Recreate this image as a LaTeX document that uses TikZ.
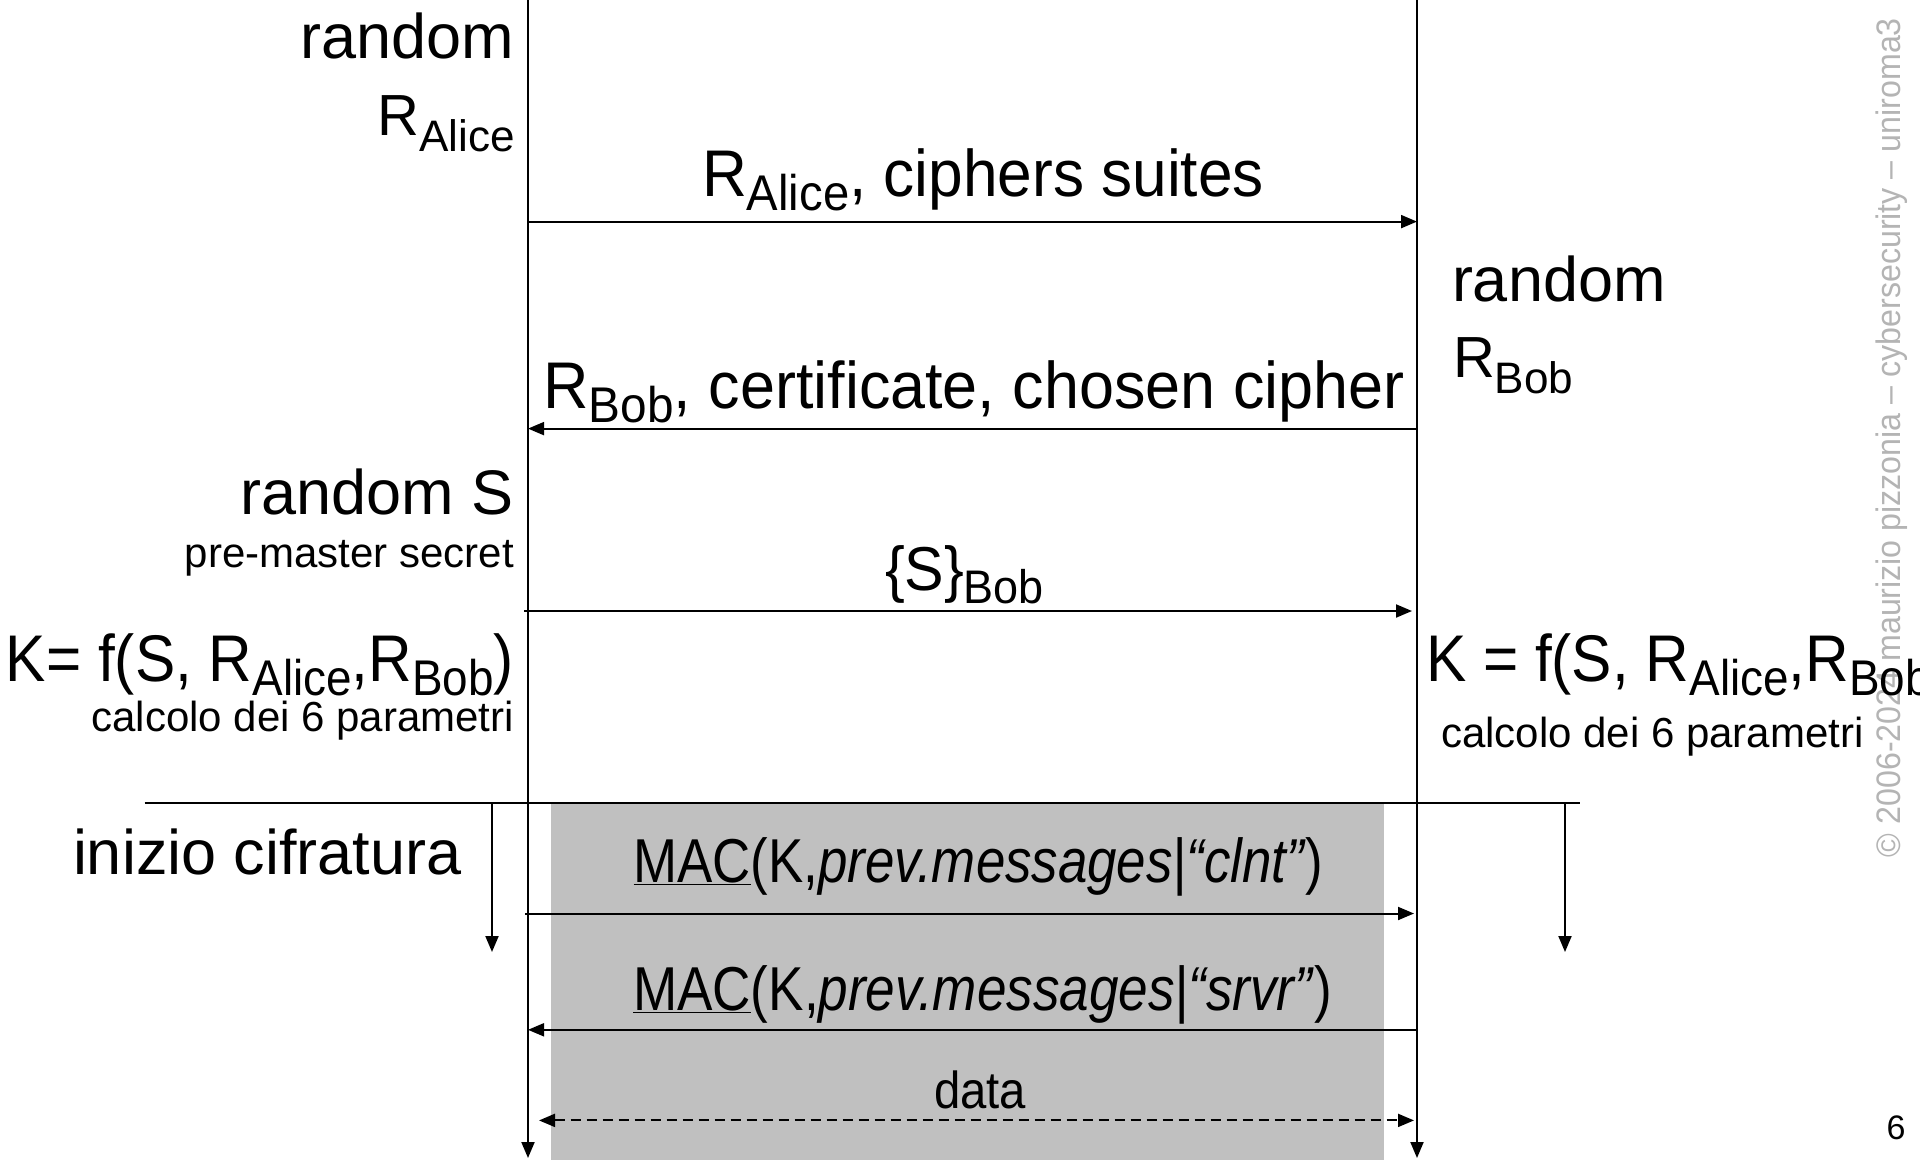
\documentclass[tikz,border=0pt]{standalone}
\usepackage{fontspec}
\setmainfont{Liberation Sans}
\usepackage{graphicx}
\usetikzlibrary{arrows.meta}
\definecolor{encgray}{HTML}{C0C0C0}
\definecolor{wmgray}{HTML}{B4B4B4}
\newcommand{\sbx}[2][0.22em]{\raisebox{-#1}{\scalebox{0.76}{#2}}}
\newcommand{\fitw}[3]{\resizebox{#1pt}{\height}{\fontsize{#2}{#2}\selectfont #3}}
\newcommand{\fs}[1]{\fontsize{#1}{#1}\selectfont}
\begin{document}
\begin{tikzpicture}[x=1pt,y=-1pt,
  tip/.style={-{Triangle[length=16pt,width=13pt]}},
  life/.style={line width=2pt,tip},
  msg/.style={line width=2pt,tip},
  plain/.style={line width=2pt},
  dmsg/.style={line width=2pt,dash pattern=on 10pt off 6pt,{Triangle[length=16pt,width=13pt]}-{Triangle[length=16pt,width=13pt]}},
  lbl/.style={inner sep=0pt,outer sep=0pt}]
\useasboundingbox (0,0) rectangle (1920,1160);
\fill[white] (0,0) rectangle (1920,1160);
% shaded encrypted area
\fill[encgray] (551,803) rectangle (1384,1160);
% watermark
\node[lbl,rotate=90,text=wmgray] (wm) at (1892,437.5) {\fitw{839}{34}{© 2006-2024 maurizio pizzonia – cybersecurity – uniroma3}};
\node[lbl,anchor=base] (pg) at (1896,1139) {\fs{34}6};
% lifelines
\coordinate (aT) at (528,0);  \coordinate (aB) at (528,1158);
\coordinate (bT) at (1417,0); \coordinate (bB) at (1417,1158);
\draw[life] (aT) -- (aB);
\draw[life] (bT) -- (bB);
% messages
\coordinate (a1) at (528,221.6);  \coordinate (b1) at (1417,221.6);
\coordinate (a2) at (528,428.6);  \coordinate (b2) at (1417,428.6);
\coordinate (a3) at (524,611);    \coordinate (b3) at (1412,611);
\coordinate (a4) at (525,913.5);  \coordinate (b4) at (1414,913.5);
\coordinate (a5) at (528,1029.8); \coordinate (b5) at (1417,1029.8);
\coordinate (a6) at (539,1120.4); \coordinate (b6) at (1414,1120.4);
\draw[msg] (a1) -- (b1);
\draw[msg] (b2) -- (a2);
\draw[msg] (a3) -- (b3);
\draw[msg] (a4) -- (b4);
\draw[msg] (b5) -- (a5);
\draw[dmsg] (a6) -- (b6);
% start of encryption
\coordinate (h1) at (144.5,803); \coordinate (h2) at (1580,803);
\draw[plain] (h1) -- (h2);
\coordinate (d1) at (492,803);  \coordinate (d1e) at (492,952);
\coordinate (d2) at (1565,803); \coordinate (d2e) at (1565,952);
\draw[msg] (d1) -- (d1e);
\draw[msg] (d2) -- (d2e);
% message labels
\node[lbl,anchor=base] (m1) at (983,196) {\fitw{562}{66}{R\sbx{Alice}, ciphers suites}};
\node[lbl,anchor=base] (m2) at (974,408) {\fitw{861}{66}{R\sbx{Bob}, certificate, chosen cipher}};
\node[lbl,anchor=base] (m3) at (964.5,590) {\fitw{159}{62}{\{S\}\sbx{Bob}}};
\node[lbl,anchor=base] (m4) at (978.5,882) {\fitw{690}{62}{\underline{MAC}(K,\textit{prev.messages|“clnt”})}};
\node[lbl,anchor=base] (m5) at (982.5,1010) {\fitw{699}{62}{\underline{MAC}(K,\textit{prev.messages|“srvr”})}};
\node[lbl,anchor=base] (m6) at (980,1108) {\fitw{92}{52}{data}};
% Alice side
\node[lbl,anchor=base east] (rA) at (514,58) {\fs{63}random};
\node[lbl,anchor=base east] (RA) at (515,135) {\fs{58}R\sbx[0.28em]{Alice}};
\node[lbl,anchor=base east] (rS) at (514,514) {\fs{63}random S};
\node[lbl,anchor=base east] (pms) at (514,567) {\fs{42}pre-master secret};
\node[lbl,anchor=base east] (KL) at (514,681) {\fitw{508}{66}{K= f(S, R\sbx{Alice},R\sbx{Bob})}};
\node[lbl,anchor=base east] (cL) at (514,731) {\fs{42}calcolo dei 6 parametri};
\node[lbl,anchor=base west] (ic) at (73,874) {\fs{63}inizio cifratura};
% Bob side
\node[lbl,anchor=base west] (rB) at (1452,301) {\fs{63}random};
\node[lbl,anchor=base west] (RB) at (1453,377) {\fs{58}R\sbx[0.28em]{Bob}};
\node[lbl,anchor=base west] (KR) at (1426,681) {\fitw{525}{66}{K = f(S, R\sbx{Alice},R\sbx{Bob})}};
\node[lbl,anchor=base west] (cR) at (1441,747) {\fs{42}calcolo dei 6 parametri};
\end{tikzpicture}
\end{document}
